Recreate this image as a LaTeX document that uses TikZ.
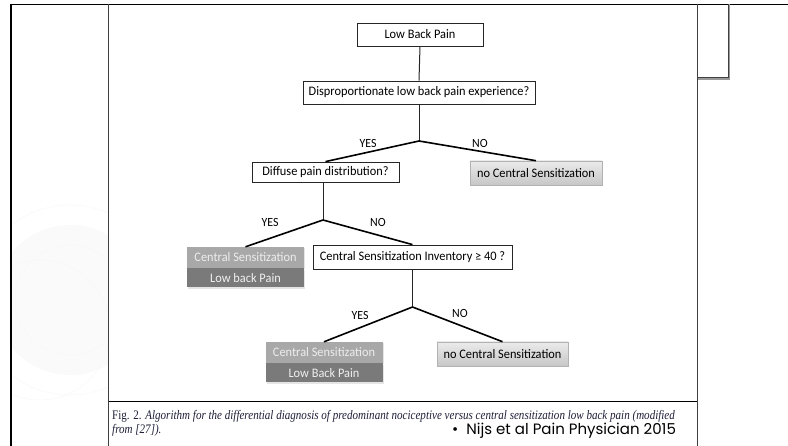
\documentclass[tikz,border=0pt]{standalone}
\usepackage{fontspec}
\setmainfont{Carlito}[FakeStretch=0.95]
\newfontfamily\capfont[FakeStretch=0.85]{Liberation Serif}
\newfontfamily\reffont{Poppins}
\usetikzlibrary{positioning,shadows}
\definecolor{capblue}{HTML}{1E1E38}

\begin{document}
\begin{tikzpicture}[x=1pt,y=-1pt,
	qbox/.style={draw=black!85, fill=white, line width=0.8pt, inner sep=0pt, minimum height=23pt, font=\fontsize{13}{15}\selectfont},
	nobox/.style={draw=black!30, top color=black!8, bottom color=black!22, line width=0.6pt, inner sep=0pt, minimum height=24pt, font=\fontsize{13}{15}\selectfont, drop shadow={shadow xshift=1pt, shadow yshift=-1.5pt, opacity=0.25}},
	cstop/.style={fill=black!34, text=black!7, inner sep=0pt, minimum width=117pt, minimum height=21pt, font=\fontsize{13}{15}\selectfont, drop shadow={shadow xshift=1pt, shadow yshift=-1.5pt, opacity=0.2}},
	csbot/.style={fill=black!52, text=black!6, inner sep=0pt, minimum width=117pt, minimum height=19pt, font=\fontsize{13}{15}\selectfont, drop shadow={shadow xshift=1pt, shadow yshift=-1.5pt, opacity=0.2}},
	stem/.style={draw=black!85, line width=1pt},
	branch/.style={draw=black, line width=1.6pt},
	lbl/.style={inner sep=0pt, font=\fontsize{12.5}{14}\selectfont},
]
\useasboundingbox (0,0) rectangle (788,446);
\fill[white] (0,0) rectangle (788,446);

% faint arcs of the slide background
\begin{scope}
	\clip (12,5) rectangle (108,446);
	\fill[black!2] (70,300) circle (75);
	\draw[black!3] (70,300) circle (55) (70,300) circle (95) (40,330) circle (70);
\end{scope}

% frame of the slide
\draw[line width=1.5pt] (10,4.5) -- (788,4.5);
\draw[line width=2pt] (11,4.5) -- (11,446);
\draw[black!75, line width=0.8pt] (108.5,4.5) -- (108.5,446);
\draw[line width=1.6pt] (108.5,401.5) -- (697.5,401.5);
\draw[black!75, line width=1pt] (697.5,4.5) -- (697.5,446);
\draw[black!40, line width=1.2pt] (698,79) -- (729,79) -- (729,4.5);
\draw[black!75, line width=1pt] (697.5,78) -- (728,78) -- (728,4.5);

% the algorithm
\node[qbox, minimum width=126pt] (lbp) at (420,34.5) {Low Back Pain};
\node[qbox, minimum width=232pt] (disp) at (419,92.5) {Disproportionate low back pain experience?};
\node[qbox, minimum width=147pt, minimum height=20pt] (diffuse) at (325.5,172) {Diffuse pain distribution?};
\node[nobox, minimum width=132pt] (nocs1) at (536,173) {no Central Sensitization};
\node[qbox, minimum width=199pt, minimum height=24pt] (csi) at (412.5,257) {Central Sensitization Inventory ≥ 40 ?};
\node[cstop] (cs1top) at (245.5,257.5) {Central Sensitization};
\node[csbot] (cs1bot) [below=0pt of cs1top] {Low back Pain};
\node[cstop] (cs2top) at (324,352.5) {Central Sensitization};
\node[csbot] (cs2bot) [below=0pt of cs2top] {Low Back Pain};
\node[nobox, minimum width=131pt] (nocs2) at (502.5,354) {no Central Sensitization};

\coordinate (f1) at (419,141);
\coordinate (f2) at (323,220);
\coordinate (f3) at (412.5,307);

\draw[stem] (lbp.south) -- (disp.north);
\draw[stem] (disp.south) -- (f1);
\draw[stem] (f2 |- diffuse.south) -- (f2);
\draw[stem] (csi.south) -- (f3);

\draw[branch] (f1) -- (diffuse.north);
\draw[branch] (f1) -- (nocs1.north);
\draw[branch] (f2) -- (cs1top.north);
\draw[branch] (f2) -- (csi.north);
\draw[branch] (f3) -- (cs2top.north);
\draw[branch] (f3) -- (nocs2.north);

\node[lbl] (yes1) at (368,143) {YES};
\node[lbl] (no1) at (480,143) {NO};
\node[lbl] (yes2) at (270,222) {YES};
\node[lbl] (no2) at (378,222) {NO};
\node[lbl] (yes3) at (360,315) {YES};
\node[lbl] (no3) at (460,313) {NO};

% caption and reference
\node[anchor=base west, inner sep=0pt, text=capblue, font=\capfont\fontsize{13}{15}\selectfont] (cap1) at (112,420) {Fig. 2. \textit{Algorithm for the differential diagnosis of predominant nociceptive versus central sensitization low back pain (modified}};
\node[anchor=base west, inner sep=0pt, text=capblue, font=\capfont\fontsize{13}{15}\selectfont] (cap2) at (112,434) {\textit{from [27]).}};
\node[anchor=base west, inner sep=0pt, font=\reffont\fontsize{15}{17}\selectfont] (ref) at (452,435) {\textbullet\hspace{8pt}Nijs et al Pain Physician 2015};

\end{tikzpicture}
\end{document}
